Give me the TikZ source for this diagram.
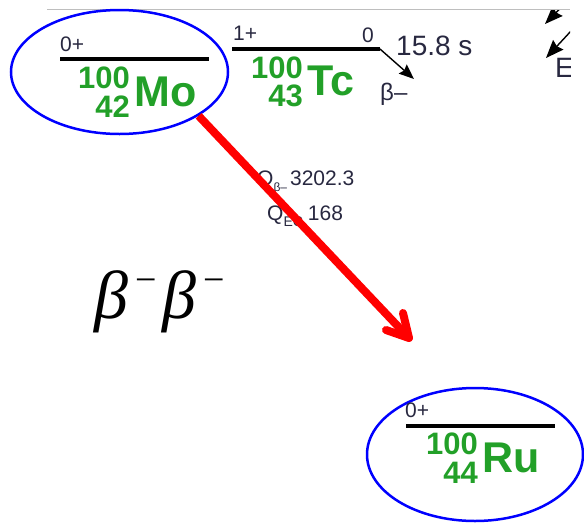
\documentclass[tikz,border=0pt]{standalone}
\usepackage{fontspec}
\setmainfont{Liberation Sans}
\newfontfamily\bbserif{Liberation Serif}
\usetikzlibrary{arrows.meta,shapes.geometric}
\definecolor{nucgreen}{RGB}{34,160,40}
\definecolor{txtdark}{RGB}{40,40,64}
\definecolor{rulegray}{RGB}{190,190,190}
\newcommand{\bbsup}{\hspace{7pt}\raisebox{26pt}{\fontsize{38}{38}\selectfont −}}
\begin{document}
\begin{tikzpicture}[x=1pt,y=-1pt,
  lvl/.style={line width=4pt, black},
  spin/.style={font=\fontsize{21}{21}\selectfont, text=txtdark, inner sep=0pt, anchor=base west},
  mass/.style={font=\bfseries\fontsize{31}{31}\selectfont, text=nucgreen, inner sep=0pt, anchor=base east, text height=0.72em, text depth=0pt},
  sym/.style={font=\bfseries\fontsize{43}{43}\selectfont, text=nucgreen, inner sep=0pt, anchor=base west, text height=0.72em, text depth=0pt},
  info/.style={font=\fontsize{21}{21}\selectfont, text=txtdark, inner sep=0pt, anchor=base west},
  ring/.style={draw=blue, line width=2.5pt, ellipse, inner sep=0pt},
  decayarrow/.style={draw=black, line width=1.4pt, -{Stealth[length=15pt,width=12pt,inset=2pt]}},
  edgearrow/.style={draw=black, line width=1.4pt, -{Stealth[length=18pt,width=14pt,inset=2pt]}},
  bigarrow/.style={draw=red, line width=8pt}
]
\useasboundingbox (0,0) rectangle (584,523);

% top gray rule
\coordinate (ruleL) at (47,9);
\coordinate (ruleR) at (570,9);
\draw[rulegray, line width=0.8pt] (ruleL) -- (ruleR);

% ---- Mo ----
\node[ring, minimum width=217pt, minimum height=124pt] (moring) at (119.5,72) {};
\coordinate (moL) at (60,59);
\coordinate (moR) at (209,59);
\draw[lvl] (moL) -- (moR);
\node[spin] (mospin) at (60,51) {0+};
\node[mass] (moA) at (130,88) {100};
\node[mass] (moZ) at (130,117) {42};
\node[sym] (mosym) at (134,106) {Mo};

% ---- Tc ----
\coordinate (tcL) at (232,49);
\coordinate (tcR) at (380,49);
\draw[lvl] (tcL) -- (tcR);
\node[spin] (tcspin) at (233,40) {1+};
\node[spin] (tcspin0) at (362,42) {0};
\node[mass] (tcA) at (303,78) {100};
\node[mass] (tcZ) at (303,106) {43};
\node[sym] (tcsym) at (307,95) {Tc};
\coordinate (tcTip) at (414,79);
\draw[decayarrow] (tcR) -- (tcTip);
\node[font=\fontsize{28}{28}\selectfont, text=txtdark, inner sep=0pt, anchor=base west] (halflife) at (396,55) {15.8 s};
\node[font=\fontsize{24}{24}\selectfont, text=txtdark, inner sep=0pt, anchor=base west] (betaminus) at (380,100) {β–};

% ---- clipped items at the right edge ----
\begin{scope}
  \clip (0,10) rectangle (570,523);
  \coordinate (ea1) at (580,-12);
  \coordinate (eb1) at (545,24);
  \draw[edgearrow] (ea1) -- (eb1);
  \coordinate (ea2) at (571,31);
  \coordinate (eb2) at (546,58);
  \draw[edgearrow] (ea2) -- (eb2);
  \node[font=\fontsize{28}{28}\selectfont, text=txtdark, inner sep=0pt, anchor=base west] (elabel) at (555,77) {E};
\end{scope}

% ---- Q values ----
\node[info] (qbeta) at (257,185) {Q\raisebox{-0.3em}{\fontsize{12}{12}\selectfont β–}\hspace{3pt}3202.3};
\node[info] (qec) at (267,220) {Q\raisebox{-0.3em}{\fontsize{14}{14}\selectfont EC}\hspace{5pt}168};

% ---- beta beta ----
\node[inner sep=0pt, anchor=base west, font=\bbserif\fontsize{68}{68}\selectfont] (bb) at (94,318) {\textit{β}\bbsup\hspace{6pt}\textit{β}\bbsup};

% ---- Ru ----
\node[ring, minimum width=216pt, minimum height=133pt] (ruring) at (475,454.5) {};
\coordinate (ruL) at (406,426);
\coordinate (ruR) at (555,426);
\draw[lvl] (ruL) -- (ruR);
\node[spin] (ruspin) at (405,417) {0+};
\node[mass] (ruA) at (478,454) {100};
\node[mass] (ruZ) at (478,483) {44};
\node[sym] (rusym) at (482,472) {Ru};

% ---- big red arrow ----
\coordinate (tip) at (409,338);
\coordinate (wing1) at (403,313);
\coordinate (wing2) at (386,330);
\draw[bigarrow] (moring.-29.3) -- (tip);
\draw[bigarrow, line cap=round, line join=round] (wing1) -- (tip) -- (wing2);
\end{tikzpicture}
\end{document}
